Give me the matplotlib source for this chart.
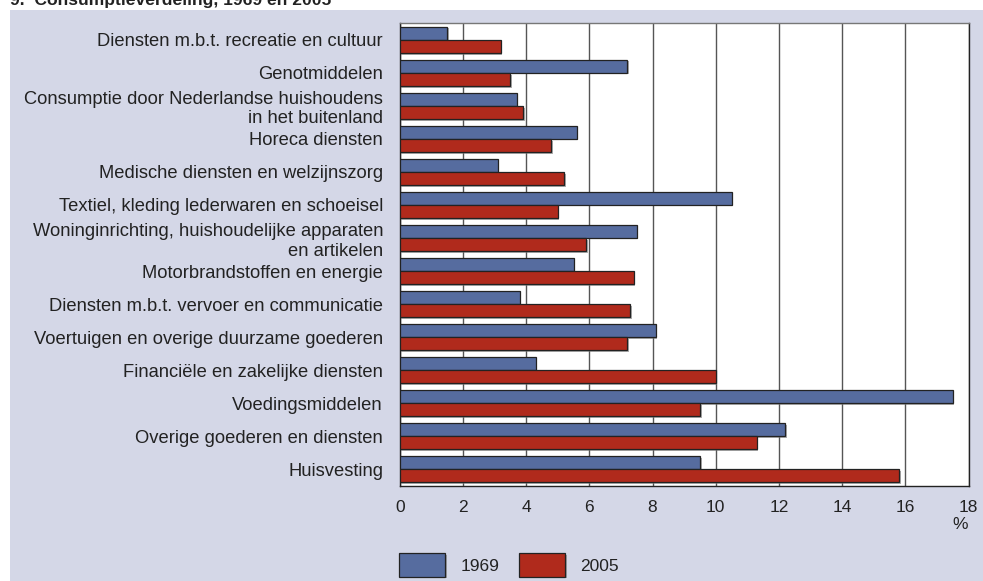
import matplotlib
matplotlib.use("Agg")
import matplotlib.pyplot as plt
import matplotlib.patheffects as pe
from matplotlib.patches import Rectangle
import numpy as np

plt.rcParams['font.family'] = ['Liberation Sans', 'DejaVu Sans']

title = "9.  Consumptieverdeling, 1969 en 2005"
categories = [
    "Diensten m.b.t. recreatie en cultuur",
    "Genotmiddelen",
    "Consumptie door Nederlandse huishoudens\nin het buitenland",
    "Horeca diensten",
    "Medische diensten en welzijnszorg",
    "Textiel, kleding lederwaren en schoeisel",
    "Woninginrichting, huishoudelijke apparaten\nen artikelen",
    "Motorbrandstoffen en energie",
    "Diensten m.b.t. vervoer en communicatie",
    "Voertuigen en overige duurzame goederen",
    "Financiële en zakelijke diensten",
    "Voedingsmiddelen",
    "Overige goederen en diensten",
    "Huisvesting",
]
values_1969 = [1.5, 7.2, 3.7, 5.6, 3.1, 10.5, 7.5, 5.5, 3.8, 8.1, 4.3, 17.5, 12.2, 9.5]
values_2005 = [3.2, 3.5, 3.9, 4.8, 5.2, 5.0, 5.9, 7.4, 7.3, 7.2, 10.0, 9.5, 11.3, 15.8]
series_labels = ["1969", "2005"]
xticks = [0, 2, 4, 6, 8, 10, 12, 14, 16, 18]
unit_label = "%"

W, H = 983, 581
fig = plt.figure(figsize=(W / 100, H / 100), dpi=100)
fig.patch.set_facecolor('white')
# lavender panel
fig.patches.append(Rectangle((10 / W, 0), 1, 1 - 10 / H, transform=fig.transFigure,
                             facecolor='#D4D7E7', edgecolor='none', zorder=-10))
fig.text(10 / W, 1 - 5 / H, title, fontsize=12.6, fontweight='bold', color='#222222',
         ha='left', va='baseline')

ax = fig.add_axes([399.7 / W, 1 - 485.7 / H, (968.5 - 399.7) / W, (485.7 - 23.3) / H])
ax.set_zorder(5)
ax.set_facecolor('white')

y = np.arange(len(categories))
bh = 0.395
c1 = '#566C9F'
c2 = '#B02A1C'
shadow = [pe.SimplePatchShadow(offset=(1.2, -1.2), shadow_rgbFace='#777777', alpha=0.6), pe.Normal()]
b1 = ax.barh(y - bh / 2 - 0.005, values_1969, height=bh, color=c1, edgecolor='#222222',
             linewidth=0.9, label=series_labels[0], zorder=3)
b2 = ax.barh(y + bh / 2 + 0.005, values_2005, height=bh, color=c2, edgecolor='#222222',
             linewidth=0.9, label=series_labels[1], zorder=3)
for b in list(b1) + list(b2):
    b.set_path_effects(shadow)

ax.set_xlim(0, 18)
ax.set_ylim(len(categories) - 0.5, -0.5)
ax.set_xticks(xticks)
ax.set_xticklabels([str(t) for t in xticks], fontsize=12.5, color='#222222')
ax.set_yticks(y)
ax.set_yticklabels(categories, fontsize=13.2, color='#222222', linespacing=1.2)
ax.tick_params(axis='both', length=0)
ax.tick_params(axis='x', pad=10)
ax.tick_params(axis='y', pad=12)
ax.grid(axis='x', color='#555555', linewidth=1.0, zorder=1)
ax.set_axisbelow(True)
for s in ax.spines.values():
    s.set_color('#222222')
    s.set_linewidth(1.0)
ax.spines['top'].set_color('#777777')

ax.annotate(unit_label, xy=(18, 0), xycoords=('data', 'axes fraction'),
            xytext=(-6, -28), textcoords='offset points', fontsize=12.5,
            color='#222222', ha='center', va='center')

fig.legend(handles=[b1, b2], labels=series_labels, loc='lower left',
           bbox_to_anchor=(395 / W, 0.0), ncol=2, frameon=False, fontsize=12.5,
           handlelength=2.65, handleheight=1.7, handletextpad=0.9, columnspacing=1.1,
           borderaxespad=0.0, borderpad=0.25, labelcolor='#222222')

fig.savefig("out.png", dpi=100, facecolor=fig.get_facecolor())
